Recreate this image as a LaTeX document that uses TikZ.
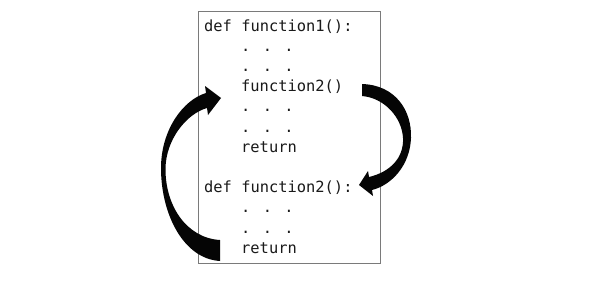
\documentclass[tikz,border=0pt]{standalone}
\usepackage{fontspec}
\newfontfamily\codefont{DejaVu Sans Mono}
\definecolor{boxgray}{HTML}{7A7A7A}
\definecolor{textcol}{HTML}{1A1A1A}
\definecolor{arrowcol}{HTML}{050505}
\tikzset{
  code/.style={anchor=base west, inner sep=0pt, text=textcol,
    font=\codefont\fontsize{15.4}{18}\selectfont},
  frame/.style={draw=boxgray, line width=0.9pt, anchor=north west, inner sep=0pt,
    minimum width=182pt, minimum height=252pt},
  bigarrow/.style={fill=arrowcol}
}
\begin{document}
\begin{tikzpicture}[x=1pt,y=-1pt]
\useasboundingbox (0,0) rectangle (600,281);
\fill[white] (0,0) rectangle (600,281);
\node[frame] (box) at (198,11) {};
% code lines
\node[code] (l0) at (204,31) {def function1():};
\node[code] (l1) at (241,51.2) {. . .};
\node[code] (l2) at (241,71.4) {. . .};
\node[code] (l3) at (241,91.6) {function2()};
\node[code] (l4) at (241,111.8) {. . .};
\node[code] (l5) at (241,132) {. . .};
\node[code] (l6) at (241,152.2) {return};
\node[code] (l8) at (204,192.6) {def function2():};
\node[code] (l9) at (241,212.8) {. . .};
\node[code] (l10) at (241,233) {. . .};
\node[code] (l11) at (241,253.2) {return};
% call arrow (right)
\fill[bigarrow] (362,84) .. controls (395,85) and (412,110) .. (411,138)
  .. controls (410,165) and (392,185) .. (372,190) -- (373,196) -- (359,185)
  -- (368,171) -- (369,177) .. controls (390,172) and (404,158) .. (403,138)
  .. controls (402,118) and (385,98) .. (362,96) -- cycle;
% return arrow (left)
\fill[bigarrow] (220,261) .. controls (184,259) and (161,215) .. (161,168)
  .. controls (161,130) and (183,100) .. (206,93) -- (205,86) -- (221,98)
  -- (208,115) -- (207,108) .. controls (186,114) and (166,140) .. (165.5,168)
  .. controls (165,205) and (186,238) .. (220,240) -- cycle;
\end{tikzpicture}
\end{document}
